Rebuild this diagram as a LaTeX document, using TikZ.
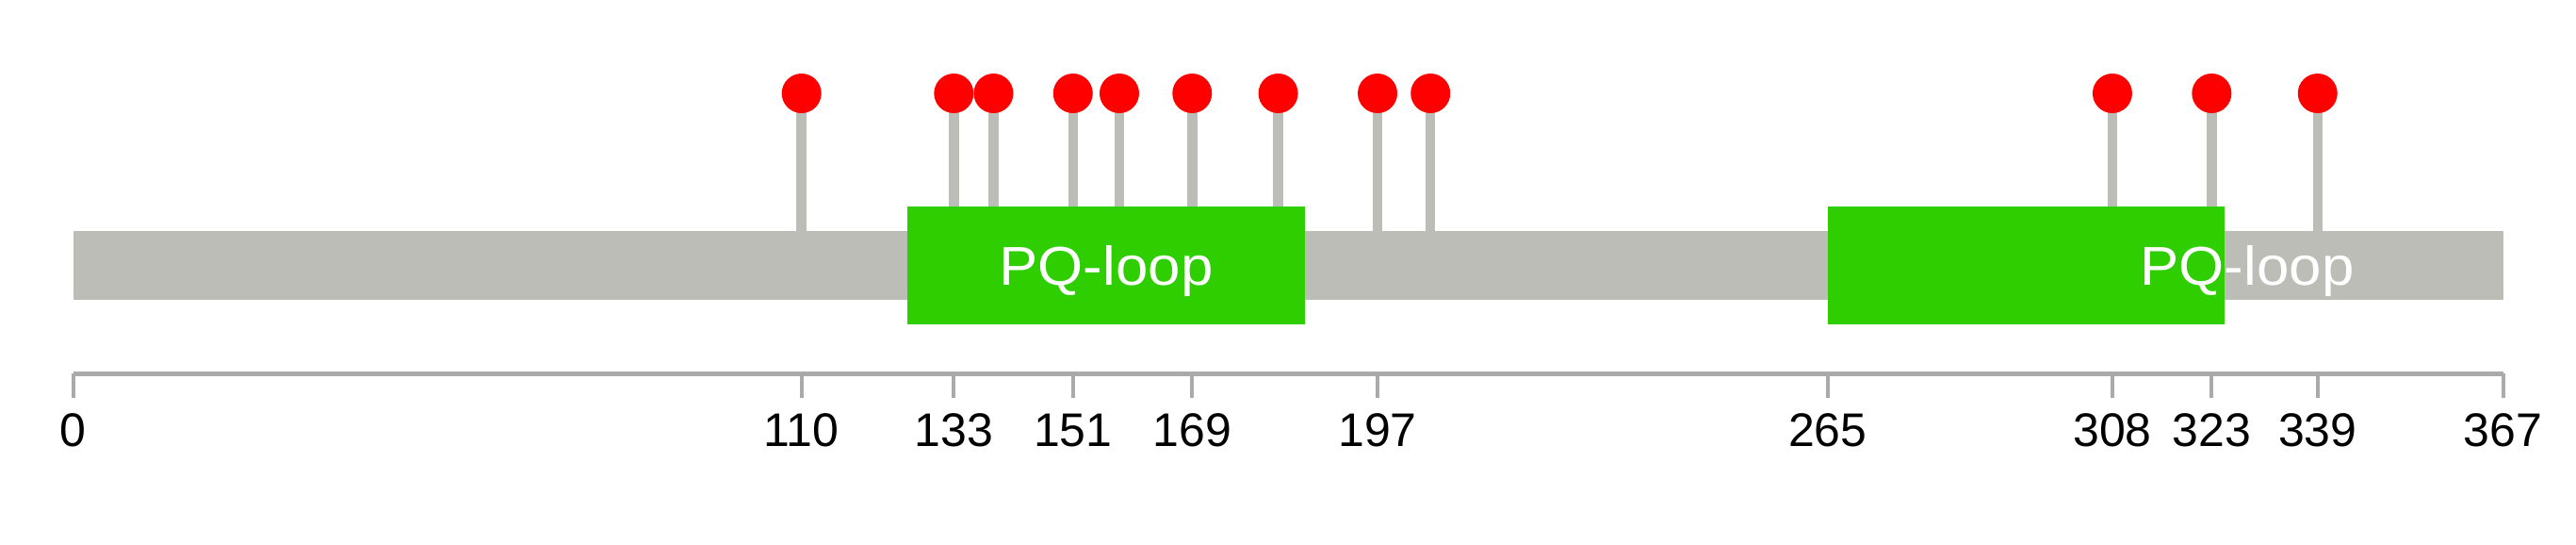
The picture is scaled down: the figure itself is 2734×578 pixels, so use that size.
\documentclass[tikz,border=0pt]{standalone}
\usepackage{fontspec}
\usepackage{graphicx}
\setmainfont{Liberation Sans}
\definecolor{bargray}{RGB}{187,189,182}
\definecolor{domgreen}{RGB}{46,206,0}
\definecolor{axisgray}{RGB}{170,170,170}
\begin{document}
\begin{tikzpicture}[x=1pt,y=-1pt,
  proteinbar/.style={fill=bargray,draw=none},
  dombox/.style={fill=domgreen,draw=none},
  domlabel/.style={text=white,font=\fontsize{58}{60}\selectfont,anchor=base,inner sep=0},
  stemline/.style={draw=bargray,line width=10.5pt},
  lolli/.style={circle,fill=red,draw=none,minimum size=42pt,inner sep=0},
  axisline/.style={draw=axisgray,line width=5pt},
  tickmark/.style={draw=axisgray,line width=4pt},
  ticklabel/.style={font=\fontsize{50}{60}\selectfont,anchor=base,inner sep=0}]
\useasboundingbox (0,0) rectangle (2734,578);
\pgfmathsetmacro{\xo}{77.8}
\pgfmathsetmacro{\sc}{7.0264}
% protein backbone
\fill[proteinbar] (77.8,245) rectangle (2656.5,318);
% domains
\fill[dombox] ({\xo+126*\sc},219) rectangle ({\xo+186*\sc},344);
\fill[dombox] ({\xo+265*\sc},219) rectangle ({\xo+325*\sc},344);
\node[domlabel] (d1) at (1174,302) {\scalebox{1.066}[1]{PQ-loop}};
\node[domlabel] (d2) at (2385,302) {\scalebox{1.066}[1]{PQ-loop}};
% lollipops
\foreach \p/\b [count=\i] in {110/245,133/219,139/219,151/219,158/219,169/219,182/219,197/245,205/245,308/219,323/219,339/245}{
  \coordinate (base\i) at ({\xo+\p*\sc},\b);
  \coordinate (top\i) at ({\xo+\p*\sc},99);
  \draw[stemline] (top\i) -- (base\i);
}
\foreach \p [count=\i] in {110,133,139,151,158,169,182,197,205,308,323,339}{
  \node[lolli] (m\i) at ({\xo+\p*\sc},99) {};
}
% axis
\coordinate (a0) at (\xo,396);
\coordinate (a1) at ({\xo+367*\sc},396);
\draw[axisline] (a0) -- (a1);
\foreach \t [count=\j] in {0,110,133,151,169,197,265,308,323,339,367}{
  \coordinate (t\j) at ({\xo+\t*\sc},396);
  \coordinate (tb\j) at ({\xo+\t*\sc},422);
  \draw[tickmark] (t\j) -- (tb\j);
  \node[ticklabel] (l\j) at ({\xo+\t*\sc},473) {\t};
}
\end{tikzpicture}
\end{document}
